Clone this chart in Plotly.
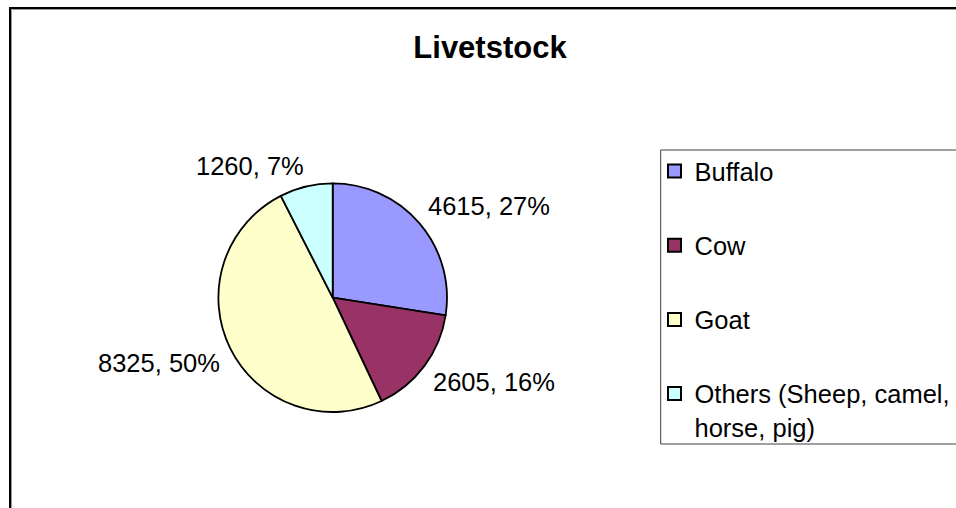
import math
import plotly.graph_objects as go

# ---- data ----
categories = ["Buffalo", "Cow", "Goat", "Others (Sheep, camel,<br>horse, pig)"]
values = [4615, 2605, 8325, 1260]
colors = ["#9999FF", "#993366", "#FFFFCC", "#CCFFFF"]
title_text = "Livetstock"

# ---- layout constants ----
W, H = 956, 508
CX, CY, R = 332.7, 297.7, 114.3
FONT = "Liberation Sans, Arial, sans-serif"
LBL = 25.5

fig = go.Figure()
fig.add_trace(go.Pie(
    labels=categories, values=values, sort=False, direction="clockwise", rotation=0,
    marker=dict(colors=colors, line=dict(color="black", width=1.8)),
    textinfo="none", showlegend=False,
    domain=dict(x=[(CX - R) / W, (CX + R) / W], y=[1 - (CY + R) / H, 1 - (CY - R) / H]),
))

# legend entries
for i, (c, col) in enumerate(zip(categories, colors)):
    fig.add_trace(go.Scatter(
        x=[None], y=[None], mode="markers", name=c, legendgroup=str(i),
        marker=dict(symbol="square", size=13, color=col, line=dict(color="black", width=2)),
        hoverinfo="skip",
    ))

# data labels: the label box corner nearest the pie sits just outside the rim
total = sum(values)
cum = 0
RHO = 1.105 * R
HALF_GLYPH = 9.2
for v in values:
    theta = 2 * math.pi * (cum + v / 2) / total
    cum += v
    s, c = math.sin(theta), math.cos(theta)
    ax = CX + RHO * s
    ay = CY - RHO * c
    ay += -HALF_GLYPH if c > 0 else HALF_GLYPH
    ax += -2.5 if s > 0 else 2.5
    pct = round(100 * v / total)
    fig.add_annotation(
        x=ax / W, y=1 - ay / H, xref="paper", yref="paper",
        text=f"{v}, {pct}%", showarrow=False,
        xanchor="left" if s > 0 else "right", yanchor="middle",
        font=dict(family=FONT, size=LBL, color="black"),
    )

# chart border (extends beyond the right and bottom edges)
fig.add_shape(type="rect", xref="paper", yref="paper",
              x0=10 / W, y0=-0.2, x1=1.2, y1=1 - 8 / H,
              line=dict(color="black", width=2), fillcolor="rgba(0,0,0,0)", layer="above")
fig.add_shape(type="rect", xref="paper", yref="paper",
              x0=11.5 / W, y0=-0.2, x1=1.2, y1=1 - 9.5 / H,
              line=dict(color="#999999", width=1), fillcolor="rgba(0,0,0,0)", layer="above")
# legend frame (runs past the right edge)
fig.add_shape(type="rect", xref="paper", yref="paper",
              x0=660.7 / W, y0=1 - 444 / H, x1=1.1, y1=1 - 150 / H,
              line=dict(color="#404040", width=1), fillcolor="white", layer="below")

fig.update_layout(
    width=W, height=H,
    margin=dict(l=0, r=0, t=0, b=0, autoexpand=False),
    paper_bgcolor="white", plot_bgcolor="rgba(0,0,0,0)",
    xaxis=dict(visible=False), yaxis=dict(visible=False),
    title=dict(text=f"<b>{title_text}</b>", x=490 / W, xanchor="center",
               y=1 - 47 / H, yanchor="middle",
               font=dict(family=FONT, size=31, color="black")),
    legend=dict(x=654.5 / W, y=1 - 148 / H, xanchor="left", yanchor="top",
                borderwidth=0, bgcolor="rgba(0,0,0,0)",
                font=dict(family=FONT, size=LBL, color="black"),
                tracegroupgap=38, valign="top"),
    showlegend=True,
)

fig.write_html("out.html", config={"displayModeBar": False},
               post_script="document.body.style.margin='0';")
